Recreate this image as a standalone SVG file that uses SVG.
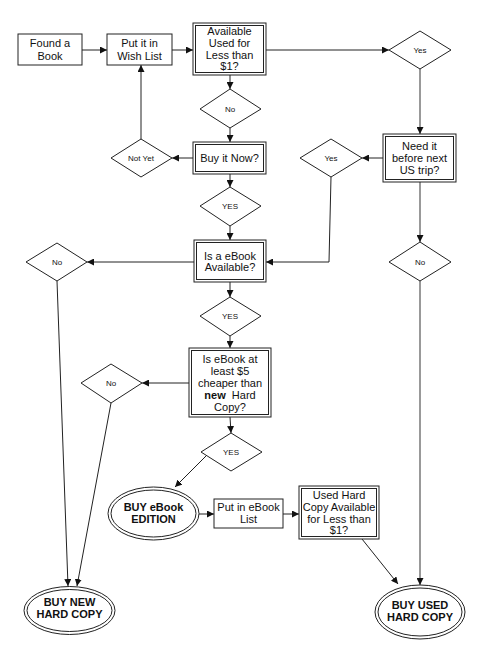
<svg xmlns="http://www.w3.org/2000/svg" width="491" height="653" viewBox="0 0 491 653">
<defs>
<marker id="ah" viewBox="0 0 10 10" refX="10" refY="5" markerWidth="7" markerHeight="7" markerUnits="userSpaceOnUse" orient="auto">
<path d="M0,0 L10,5 L0,10 z" fill="#111"/>
</marker>
<style>
.box{fill:#fff;stroke:#222;stroke-width:1}
.dia{fill:#fff;stroke:#222;stroke-width:1}
.t{font-family:"Liberation Sans",Arial,sans-serif;font-size:11px;fill:#111;text-anchor:middle}
.s{font-family:"Liberation Sans",Arial,sans-serif;font-size:8px;fill:#111;text-anchor:middle}
.b{font-family:"Liberation Sans",Arial,sans-serif;font-size:11px;font-weight:bold;fill:#111;text-anchor:middle}
.c{fill:none;stroke:#222;stroke-width:1;marker-end:url(#ah)}
.g{fill:none;stroke:#555;stroke-width:1.2;marker-end:url(#ah)}
</style>
</defs>
<rect width="491" height="653" fill="#fff"/>
<g id="connectors">
<line class="c" x1="82" y1="50" x2="107" y2="50"/>
<line class="c" x1="172" y1="50" x2="193" y2="50"/>
<line class="c" x1="266" y1="50" x2="389" y2="50"/>
<line class="g" x1="420" y1="69" x2="420" y2="134"/>
<line class="c" x1="230" y1="75" x2="230" y2="89"/>
<line class="c" x1="230" y1="128" x2="230" y2="142"/>
<line class="c" x1="193" y1="158" x2="172" y2="158"/>
<line class="c" x1="141" y1="139" x2="141" y2="65"/>
<line class="c" x1="230" y1="174" x2="230" y2="187"/>
<line class="c" x1="230" y1="226" x2="230" y2="240"/>
<line class="c" x1="383" y1="158" x2="362" y2="158"/>
<polyline class="c" points="331,177 329,262 266,262"/>
<line class="g" x1="420" y1="182" x2="420" y2="242"/>
<line class="g" x1="420" y1="281" x2="420" y2="585"/>
<line class="c" x1="194" y1="262" x2="87" y2="262"/>
<line class="c" x1="230" y1="282" x2="230" y2="297"/>
<line class="c" x1="230" y1="336" x2="230" y2="348"/>
<line class="c" x1="189" y1="383" x2="142" y2="383"/>
<line class="c" x1="230" y1="417" x2="231" y2="433"/>
<line class="c" x1="57" y1="281" x2="68" y2="586"/>
<line class="c" x1="111" y1="403" x2="77" y2="586"/>
<line class="c" x1="206" y1="456" x2="175" y2="487"/>
<line class="c" x1="199" y1="514" x2="214" y2="514"/>
<line class="c" x1="283" y1="514" x2="299" y2="514"/>
<line class="c" x1="362" y1="539" x2="398" y2="584"/>
</g>
<g id="found">
<rect class="box" x="18" y="34" width="64" height="31"/>
<text class="t" x="50" y="47">Found a</text>
<text class="t" x="50" y="60">Book</text>
</g>
<g id="wishlist">
<rect class="box" x="107" y="34" width="65" height="31"/>
<text class="t" x="139.5" y="47">Put it in</text>
<text class="t" x="139.5" y="60">Wish List</text>
</g>
<g id="available">
<rect class="box" x="193" y="23" width="73" height="52"/>
<rect class="box" x="195.5" y="25.5" width="68" height="47"/>
<text class="t" x="229.5" y="35">Available</text>
<text class="t" x="229.5" y="47">Used for</text>
<text class="t" x="229.5" y="59">Less than</text>
<text class="t" x="229.5" y="70">$1?</text>
</g>
<g id="yes1">
<polygon class="dia" points="420,31 451,50 420,69 389,50"/>
<text class="s" x="420" y="53">Yes</text>
</g>
<g id="no1">
<polygon class="dia" points="230,89 261,109 230,128 200,109"/>
<text class="s" x="230" y="112">No</text>
</g>
<g id="buynow">
<rect class="box" x="193" y="142" width="73" height="32"/>
<rect class="box" x="195.5" y="144.5" width="68" height="27"/>
<text class="t" x="229.5" y="162">Buy it Now?</text>
</g>
<g id="notyet">
<polygon class="dia" points="141,139 172,158 141,177 111,158"/>
<text class="s" x="141" y="161">Not Yet</text>
</g>
<g id="yes2">
<polygon class="dia" points="230,187 261,206 230,226 200,206"/>
<text class="s" x="230" y="209">YES</text>
</g>
<g id="needit">
<rect class="box" x="383" y="134" width="73" height="48"/>
<rect class="box" x="385.5" y="136.5" width="68" height="43"/>
<text class="t" x="419.5" y="150">Need it</text>
<text class="t" x="419.5" y="162">before next</text>
<text class="t" x="419.5" y="174">US trip?</text>
</g>
<g id="yes3">
<polygon class="dia" points="331,139 362,158 331,177 300,158"/>
<text class="s" x="331" y="161">Yes</text>
</g>
<g id="ebookavail">
<rect class="box" x="194" y="240" width="72" height="42"/>
<rect class="box" x="196.5" y="242.5" width="67" height="37"/>
<text class="t" x="230" y="260">Is a eBook</text>
<text class="t" x="230" y="271">Available?</text>
</g>
<g id="no2">
<polygon class="dia" points="57,243 87,262 57,281 26,262"/>
<text class="s" x="57" y="265">No</text>
</g>
<g id="no3">
<polygon class="dia" points="420,242 451,262 420,281 389,262"/>
<text class="s" x="420" y="265">No</text>
</g>
<g id="yes4">
<polygon class="dia" points="230,297 261,316 230,336 200,316"/>
<text class="s" x="230" y="319">YES</text>
</g>
<g id="cheaper">
<rect class="box" x="189" y="348" width="82" height="69"/>
<rect class="box" x="191.5" y="350.5" width="77" height="64"/>
<text class="t" x="230" y="363">Is eBook at</text>
<text class="t" x="230" y="375">least $5</text>
<text class="t" x="230" y="387">cheaper than</text>
<text class="t" x="230" y="399"><tspan font-weight="bold">new</tspan>&#160; Hard</text>
<text class="t" x="230" y="411">Copy?</text>
</g>
<g id="no4">
<polygon class="dia" points="111,364 142,383 111,403 81,383"/>
<text class="s" x="111" y="386">No</text>
</g>
<g id="yes5">
<polygon class="dia" points="231,433 262,452 231,471 201,452"/>
<text class="s" x="231" y="455">YES</text>
</g>
<g id="buyebook">
<ellipse class="box" cx="153.5" cy="513.5" rx="45.5" ry="26.5"/>
<ellipse class="box" cx="153.5" cy="513.5" rx="42.5" ry="23.5"/>
<text class="b" x="153.5" y="511">BUY eBook</text>
<text class="b" x="153.5" y="523">EDITION</text>
</g>
<g id="ebooklist">
<rect class="box" x="214" y="499" width="69" height="29"/>
<text class="t" x="248.5" y="511">Put in eBook</text>
<text class="t" x="248.5" y="523">List</text>
</g>
<g id="usedhard">
<rect class="box" x="299" y="486" width="80" height="53"/>
<rect class="box" x="301.5" y="488.5" width="75" height="48"/>
<text class="t" x="339" y="499">Used Hard</text>
<text class="t" x="339" y="511">Copy Available</text>
<text class="t" x="339" y="523">for Less than</text>
<text class="t" x="339" y="534">$1?</text>
</g>
<g id="buynew">
<ellipse class="box" cx="69.5" cy="610.5" rx="45.5" ry="24"/>
<ellipse class="box" cx="69.5" cy="610.5" rx="42.5" ry="21"/>
<text class="b" x="69.5" y="606">BUY NEW</text>
<text class="b" x="69.5" y="618">HARD COPY</text>
</g>
<g id="buyused">
<ellipse class="box" cx="420" cy="612" rx="45" ry="27"/>
<ellipse class="box" cx="420" cy="612" rx="42" ry="24"/>
<text class="b" x="420" y="609">BUY USED</text>
<text class="b" x="420" y="621">HARD COPY</text>
</g>
</svg>
